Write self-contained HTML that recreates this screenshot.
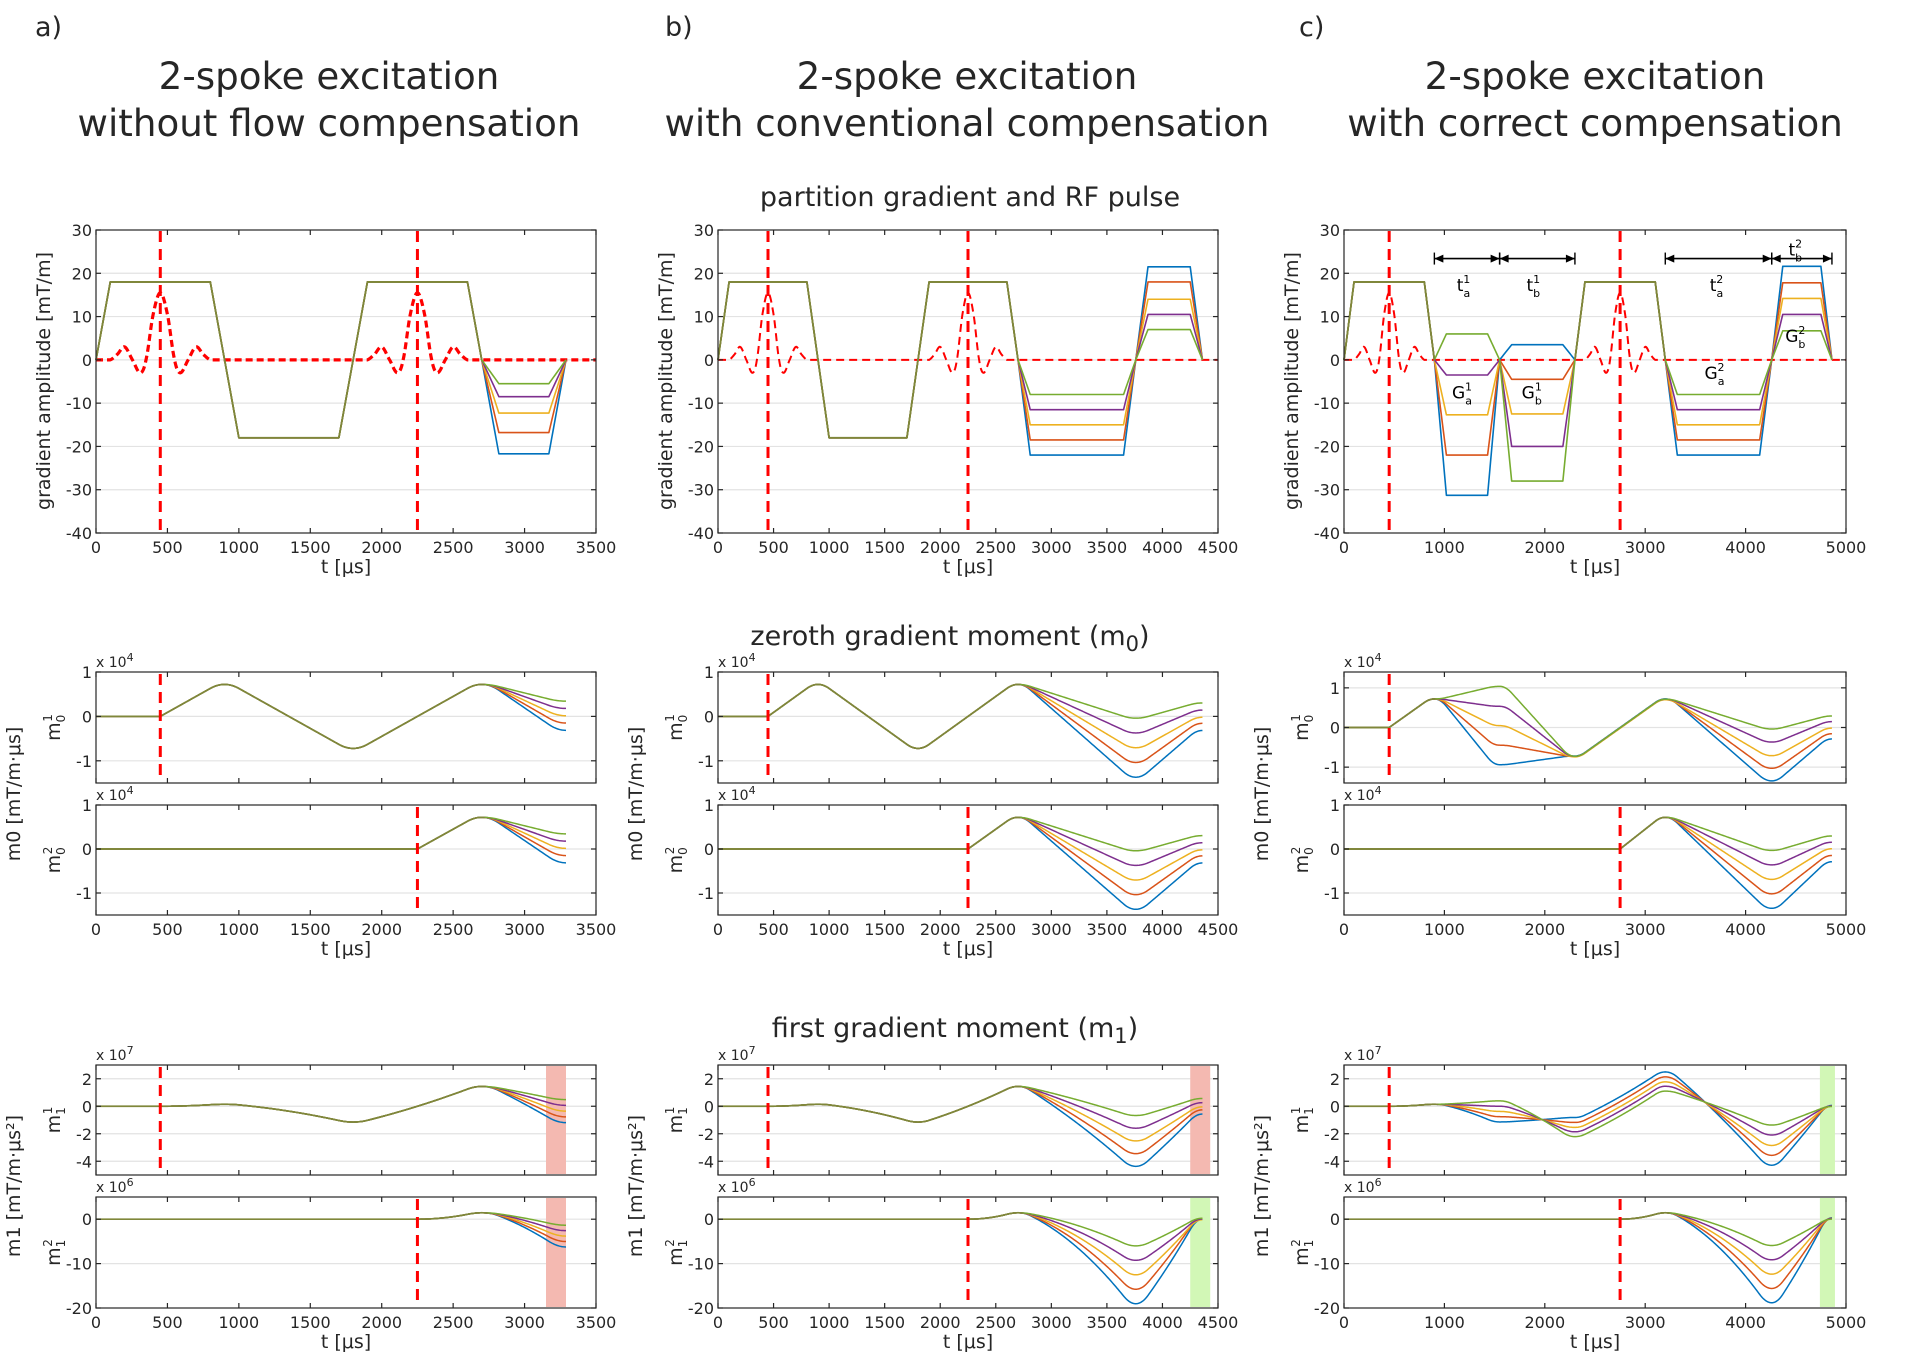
<!DOCTYPE html>
<html><head><meta charset="utf-8"><style>
html,body{margin:0;padding:0;background:#fff;}
svg{display:block;font-family:"DejaVu Sans","Liberation Sans",sans-serif;}
</style></head><body>
<svg id="fig" width="1920" height="1367" viewBox="0 0 1920 1367" xmlns="http://www.w3.org/2000/svg"></svg>
<script>
// ---------- data ----------
const seriesColors = ['#0072BD','#D95319','#EDB120','#7E2F8E','#77AC30'];
const sharedColor = '#7f873a';
const flat18 = [18,18,18,18,18];
const neg18 = [-18,-18,-18,-18,-18];
// panel a
const lobeA1_t = [0,100,800,900];
const lobeA2_t = [900,1000,1700,1800];
const lobeA3_t = [1800,1900,2600,2700];
const rewA_t = [2700,2820,3170,3290];
const rewA_amp = [-21.7,-16.8,-12.3,-8.5,-5.5];
const rewA_momentAmp = [-22,-18.5,-15,-11.5,-8];
const rfA = [450,2250];
// panel b
const rewB1_t = [2700,2810,3650,3760];
const rewB1_amp = [-22,-18.5,-15,-11.5,-8];
const rewB2_t = [3760,3870,4250,4360];
const rewB2_amp = [21.5,18,14,10.5,7];
const rfB = [450,2250];
// panel c
const lobeC1_t = [0,100,800,900];
const ga1_t = [900,1020,1430,1550];
const ga1_amp = [-31.3,-22,-12.7,-3.5,6];
const gb1_t = [1550,1670,2180,2300];
const gb1_amp = [3.5,-4.5,-12.5,-20,-28];
const lobeC2_t = [2300,2400,3100,3200];
const ga2_t = [3200,3320,4140,4260];
const ga2_amp = [-22,-18.5,-15,-11.5,-8];
const gb2_t = [4260,4370,4750,4860];
const gb2_amp = [21.6,17.8,14.2,10.5,6.7];
const rfC = [450,2750];
// RF pulse shape (offsets from centre, amplitude)
const rfOffsets = [-350,-300,-250,-195,-140,-100,-50,0,50,100,140,195,250,300,350];
const rfAmp = [0,1.3,3,0,-3,0,10.5,15.5,10.5,0,-3,0,3,1.3,0];
// shaded regions [start,end] for m1 plots
const shadeA = [3150,3290], shadeB = [4250,4430], shadeC = [4740,4890];
// tick labels
const gradYTicks = [30,20,10,0,-10,-20,-30,-40];
const m0YTicks = [1,0,-1];
const m1TopYTicks = [2,0,-2,-4];
const m1BotYTicks = [0,-10,-20];
const xTicksAB_a = [0,500,1000,1500,2000,2500,3000,3500];
const xTicksB = [0,500,1000,1500,2000,2500,3000,3500,4000,4500];
const xTicksC = [0,1000,2000,3000,4000,5000];

// ---------- helpers ----------
const NS = 'http://www.w3.org/2000/svg';
const svg = document.getElementById('fig');
function mk(tag, attrs, parent){
  const el = document.createElementNS(NS, tag);
  for (const k in attrs) el.setAttribute(k, attrs[k]);
  (parent||svg).appendChild(el);
  return el;
}
function txt(str, x, y, size, anchor, parent, extra){
  const el = mk('text', Object.assign({x:x, y:y, 'font-size':size, 'text-anchor':anchor||'middle', fill:'#262626'}, extra||{}), parent);
  el.textContent = str;
  return el;
}
function trap(tArr, amp, t){
  if (t<=tArr[0]||t>=tArr[3]) return 0;
  if (t<tArr[1]) return amp*(t-tArr[0])/(tArr[1]-tArr[0]);
  if (t<=tArr[2]) return amp;
  return amp*(tArr[3]-t)/(tArr[3]-tArr[2]);
}
function gradVal(lobes, s, t){
  let g=0; for (const L of lobes) g += trap(L.t, L.amp[s], t); return g;
}
function moments(lobes, s, tRF, tEnd){
  const dt=2; const pts0=[], pts1=[];
  let m0=0, m1=0;
  for (let t=0; t<=tEnd+1e-6; t+=dt){
    if (t>tRF){
      const g = gradVal(lobes,s,t-dt/2);
      m0 += g*dt; m1 += g*(t-dt/2-tRF)*dt;
    }
    if (Math.round(t)%10===0) { pts0.push([t,m0]); pts1.push([t,m1]); }
  }
  return [pts0, pts1];
}
function rfValue(centers, t){
  for (const c of centers){
    const o=t-c;
    if (o>rfOffsets[0] && o<rfOffsets[rfOffsets.length-1]){
      for (let i=0;i<rfOffsets.length-1;i++){
        if (o>=rfOffsets[i] && o<=rfOffsets[i+1]){
          const p0=rfAmp[Math.max(i-1,0)], p1=rfAmp[i], p2=rfAmp[i+1], p3=rfAmp[Math.min(i+2,rfAmp.length-1)];
          const u=(o-rfOffsets[i])/(rfOffsets[i+1]-rfOffsets[i]);
          return 0.5*((2*p1)+(-p0+p2)*u+(2*p0-5*p1+4*p2-p3)*u*u+(-p0+3*p1-3*p2+p3)*u*u*u);
        }
      }
    }
  }
  return 0;
}

function axes(cfg){
  const g = mk('g', {});
  
  
  const X = v => cfg.x0 + (v-cfg.xmin)/(cfg.xmax-cfg.xmin)*(cfg.x1-cfg.x0);
  const Y = v => cfg.y1 - (v-cfg.ymin)/(cfg.ymax-cfg.ymin)*(cfg.y1-cfg.y0);
  for (let i=0;i<cfg.yticks.length;i++){
    const yy = Y(cfg.yticks[i]*cfg.yscale);
    if (yy>cfg.y0+1 && yy<cfg.y1-1){
      const gl = mk('line', {x1:cfg.x0, x2:cfg.x1, y1:yy, y2:yy, stroke:'#e3e3e3', 'stroke-width':1.2}, g);
      
      
    }
  }
  const plot = mk('g', {}, g);
  
  
  const frame = mk('g', {}, g);
  
  
  mk('rect', {x:cfg.x0, y:cfg.y0, width:cfg.x1-cfg.x0, height:cfg.y1-cfg.y0, fill:'none', stroke:'#262626', 'stroke-width':1.2}, frame);
  for (let i=0;i<cfg.yticks.length;i++){
    const yy = Y(cfg.yticks[i]*cfg.yscale);
    mk('line', {x1:cfg.x0, x2:cfg.x0+5, y1:yy, y2:yy, stroke:'#262626', 'stroke-width':1.2}, frame);
    mk('line', {x1:cfg.x1, x2:cfg.x1-5, y1:yy, y2:yy, stroke:'#262626', 'stroke-width':1.2}, frame);
    const tl = txt(String(cfg.yticks[i]), cfg.x0-4, yy+6, 16, 'end', g);
    
    
  }
  for (let i=0;i<cfg.xticks.length;i++){
    const xx = X(cfg.xticks[i]);
    mk('line', {x1:xx, x2:xx, y1:cfg.y1, y2:cfg.y1-5, stroke:'#262626', 'stroke-width':1.2}, frame);
    mk('line', {x1:xx, x2:xx, y1:cfg.y0, y2:cfg.y0+5, stroke:'#262626', 'stroke-width':1.2}, frame);
    if (cfg.xlabels){
      const tl = txt(String(cfg.xticks[i]), xx, cfg.y1+20, 16, 'middle', g);
      
      
    }
  }
  if (cfg.xlabels){
    const xl = txt('t [μs]', (cfg.x0+cfg.x1)/2, cfg.y1+40, 19, 'middle', g);
    
    
  }
  if (cfg.exp){
    const e = mk('text', {x:cfg.x0, y:cfg.y0-5, 'font-size':14, fill:'#262626'}, g);
    
    
    e.appendChild(document.createTextNode('x 10'));
    const sp = mk('tspan', {dy:-6, 'font-size':11}, e); sp.textContent = cfg.exp;
  }
  if (cfg.sub){
    const cy=(cfg.y0+cfg.y1)/2, cx=cfg.x0-36;
    const s = mk('text', {x:cx, y:cy, 'font-size':19, fill:'#262626', 'text-anchor':'middle', transform:`rotate(-90 ${cx} ${cy})`}, g);
    
    
    s.appendChild(document.createTextNode('m'));
    const a = mk('tspan', {dy:5, 'font-size':12}, s); a.textContent = cfg.sub[0];
    const b = mk('tspan', {dx:-7, dy:-13, 'font-size':12}, s); b.textContent = cfg.sub[1];
  }
  return {X, Y, plot};
}
function pathD(pts, X, Y){
  return pts.map((p,i)=>(i?'L':'M')+X(p[0]).toFixed(2)+','+Y(p[1]).toFixed(2)).join('');
}
function poly(parent, pts, X, Y, color, w, dash, name){
  const el = mk('path', {d:pathD(pts,X,Y), fill:'none', stroke:color, 'stroke-width':w, 'stroke-linejoin':'round'}, parent);
  if (dash) el.setAttribute('stroke-dasharray', dash);
  
  
  return el;
}
// draws olive overlay where all series coincide
function shared(parent, seriesPts, X, Y, tol, w){
  let d=''; let open=false;
  const n = seriesPts[0].length;
  for (let i=0;i<n;i++){
    let mn=Infinity, mx=-Infinity;
    for (const sp of seriesPts){ mn=Math.min(mn,sp[i][1]); mx=Math.max(mx,sp[i][1]); }
    if (mx-mn<=tol){
      d += (open?'L':'M')+X(seriesPts[0][i][0]).toFixed(2)+','+Y(seriesPts[0][i][1]).toFixed(2);
      open=true;
    } else open=false;
  }
  const el = mk('path', {d:d, fill:'none', stroke:sharedColor, 'stroke-width':w, 'stroke-linejoin':'round'}, parent);
  
  
}
function ylabel(str, x, cy, size, name){
  const el = txt(str, x, cy, size, 'middle', svg, {transform:`rotate(-90 ${x} ${cy})`});
  
  
  return el;
}

// ---------- headings ----------
const heads = [['a)',35,'without flow compensation',329],['b)',665,'with conventional compensation',967],['c)',1299,'with correct compensation',1595]];
for (const h of heads){
  const l = txt(h[0], h[1], 36, 27, 'start');
  
  
  const t1 = txt('2-spoke excitation', h[3], 89, 37.2, 'middle');
  
  
  const t2 = txt(h[2], h[3], 136, 37.2, 'middle');
  
  
}
const s1 = txt('partition gradient and RF pulse', 970, 206, 27);


const s2 = txt('zeroth gradient moment (m', 950, 645, 27);


{ const sp = mk('tspan', {dy:6, 'font-size':21}, s2); sp.textContent='0'; const sp2 = mk('tspan', {dy:-6}, s2); sp2.textContent=')'; }
const s3 = txt('first gradient moment (m', 955, 1037, 27);


{ const sp = mk('tspan', {dy:6, 'font-size':21}, s3); sp.textContent='1'; const sp2 = mk('tspan', {dy:-6}, s3); sp2.textContent=')'; }

// ---------- panels ----------
function L(t, amp){ return {t:t, amp:amp}; }
const panels = [
  {key:'a', x0:96, x1:596, xmax:3500, xt:xTicksAB_a, rf:rfA, tEnd:3290, shade:shadeA, shadeCol:['#f4b9b1','#f4b9b1'],
   lobes:[L(lobeA1_t,flat18),L(lobeA2_t,neg18),L(lobeA3_t,flat18),L(rewA_t,rewA_amp)],
   mlobes:[L(lobeA1_t,flat18),L(lobeA2_t,neg18),L(lobeA3_t,flat18),L(rewA_t,rewA_momentAmp)], rfw:3.2, rfdash:'7,4', m0top:[-1.5,1]},
  {key:'b', x0:718, x1:1218, xmax:4500, xt:xTicksB, rf:rfB, tEnd:4360, shade:shadeB, shadeCol:['#f4b9b1','#d2f7b6'],
   lobes:[L(lobeA1_t,flat18),L(lobeA2_t,neg18),L(lobeA3_t,flat18),L(rewB1_t,rewB1_amp),L(rewB2_t,rewB2_amp)], rfw:2, rfdash:'8,5', m0top:[-1.5,1]},
  {key:'c', x0:1344, x1:1846, xmax:5000, xt:xTicksC, rf:rfC, tEnd:4860, shade:shadeC, shadeCol:['#d2f7b6','#d2f7b6'],
   lobes:[L(lobeC1_t,flat18),L(ga1_t,ga1_amp),L(gb1_t,gb1_amp),L(lobeC2_t,flat18),L(ga2_t,ga2_amp),L(gb2_t,gb2_amp)], rfw:2, rfdash:'8,5', m0top:[-1.4,1.4]}
];

for (const P of panels){
  const mlobes = P.mlobes || P.lobes;
  const A = axes({name:'gradient-plot-'+P.key, x0:P.x0, x1:P.x1, y0:230, y1:533, xmin:0, xmax:P.xmax, ymin:-40, ymax:30, yticks:gradYTicks, yscale:1, xticks:P.xt, xlabels:true});
  ylabel('gradient amplitude [mT/m]', P.x0-46, 381, 19, 'y-axis-title-gradient');
  const rfPts=[]; for (let t=0;t<=P.xmax;t+=5) rfPts.push([t, rfValue(P.rf,t)]);
  poly(A.plot, rfPts, A.X, A.Y, '#ff0000', P.rfw, P.rfdash, 'rf-pulse');
  const gradSeries=[];
  for (let s=0;s<5;s++){
    const pts=[]; for (let t=0;t<=P.tEnd;t+=10) pts.push([t, gradVal(P.lobes,s,t)]);
    gradSeries.push(pts);
    poly(A.plot, pts, A.X, A.Y, seriesColors[s], 1.6, null, 'gradient-series-'+(s+1));
  }
  shared(A.plot, gradSeries, A.X, A.Y, 1e-6, 1.8);
  for (const c of P.rf){
    const v = mk('line', {x1:A.X(c), x2:A.X(c), y1:231, y2:532, stroke:'#ff0000', 'stroke-width':3, 'stroke-dasharray':'11,7'}, A.plot);
    
    
  }
  const mom = [0,1].map(k=>[0,1,2,3,4].map(s=>moments(mlobes,s,P.rf[k],P.tEnd)));
  const defs = [
    {y0:672,y1:783,ymin:P.m0top[0]*1e4,ymax:P.m0top[1]*1e4,yt:m0YTicks,ys:1e4,exp:'4',sub:['0','1'],k:0,m:0,xl:false},
    {y0:805,y1:915,ymin:-1.5e4,ymax:1e4,yt:m0YTicks,ys:1e4,exp:'4',sub:['0','2'],k:1,m:0,xl:true},
    {y0:1065,y1:1175,ymin:-5e7,ymax:3e7,yt:m1TopYTicks,ys:1e7,exp:'7',sub:['1','1'],k:0,m:1,xl:false,sh:0},
    {y0:1197,y1:1308,ymin:-20e6,ymax:5e6,yt:m1BotYTicks,ys:1e6,exp:'6',sub:['1','2'],k:1,m:1,xl:true,sh:1}
  ];
  for (const D of defs){
    const B = axes({name:'m'+D.m+'-plot-'+D.sub[1]+'-'+P.key, x0:P.x0, x1:P.x1, y0:D.y0, y1:D.y1, xmin:0, xmax:P.xmax, ymin:D.ymin, ymax:D.ymax, yticks:D.yt, yscale:D.ys, xticks:P.xt, xlabels:D.xl, exp:D.exp, sub:D.sub});
    if (D.sh!==undefined){
      const r = mk('rect', {x:B.X(P.shade[0]), y:D.y0+1, width:B.X(P.shade[1])-B.X(P.shade[0]), height:D.y1-D.y0-2, fill:P.shadeCol[D.sh]}, B.plot);
      
      
    }
    const ser=[];
    for (let s=0;s<5;s++){
      ser.push(mom[D.k][s][D.m]);
      poly(B.plot, mom[D.k][s][D.m], B.X, B.Y, seriesColors[s], 1.5, null, 'moment-series-'+(s+1));
    }
    shared(B.plot, ser, B.X, B.Y, (D.ymax-D.ymin)*0.002, 1.7);
    const c = P.rf[D.k];
    const v = mk('line', {x1:B.X(c), x2:B.X(c), y1:D.y0+2, y2:D.y1-2, stroke:'#ff0000', 'stroke-width':3, 'stroke-dasharray':'11,7'}, B.plot);
    
    
  }
  ylabel('m0 [mT/m·μs]', P.x0-76, 794, 19, 'y-axis-title-m0');
  ylabel('m1 [mT/m·μs²]', P.x0-76, 1186, 19, 'y-axis-title-m1');
}

// ---------- annotations panel c ----------
const annArrows = [[900,1550],[1550,2300],[3200,4260],[4260,4860]];
const annLabels = [['t','a','1',1250,17.3],['t','b','1',1945,17.3],['t','a','2',3770,17.3],['t','b','2',4555,25.5],
                   ['G','a','1',1235,-7.5],['G','b','1',1930,-7.5],['G','a','2',3750,-3],['G','b','2',4555,5.5]];
{
  const P = panels[2];
  const X = v => P.x0 + v/P.xmax*(P.x1-P.x0);
  const Y = v => 533 - (v+40)/70*303;
  const g = mk('g', {});
  
  
  for (const a of annArrows){
    const xa=X(a[0]), xb=X(a[1]), yy=Y(23.4);
    const ar = mk('g', {}, g);
    
    
    mk('line', {x1:xa, x2:xb, y1:yy, y2:yy, stroke:'#000', 'stroke-width':1.6}, ar);
    mk('line', {x1:xa, x2:xa, y1:yy-6, y2:yy+6, stroke:'#000', 'stroke-width':1.4}, ar);
    mk('line', {x1:xb, x2:xb, y1:yy-6, y2:yy+6, stroke:'#000', 'stroke-width':1.4}, ar);
    mk('path', {d:`M${xa},${yy}l9,-4v8z M${xb},${yy}l-9,-4v8z`, fill:'#000'}, ar);
  }
  for (const l of annLabels){
    const t = mk('text', {x:X(l[3])-6, y:Y(l[4])+6, 'font-size':17, fill:'#000', 'text-anchor':'middle'}, g);
    
    
    t.appendChild(document.createTextNode(l[0]));
    const a = mk('tspan', {dy:6, 'font-size':11}, t); a.textContent=l[1];
    const b = mk('tspan', {dx:-7, dy:-14, 'font-size':11}, t); b.textContent=l[2];
  }
}
</script>
</body></html>
